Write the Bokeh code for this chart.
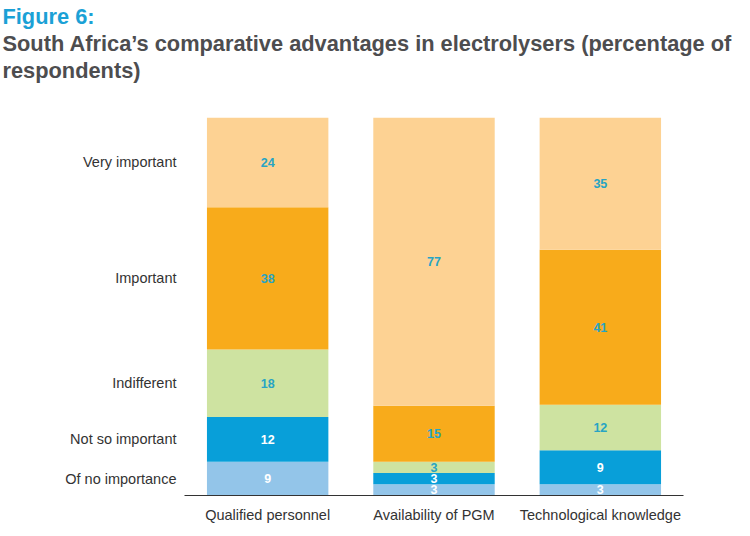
from bokeh.plotting import figure
from bokeh.models import FactorRange, Range1d, FixedTicker, Title, ColumnDataSource, LabelSet
from bokeh.core.properties import value
from bokeh.embed import file_html
from bokeh.resources import INLINE

categories = ["Qualified personnel", "Availability of PGM", "Technological knowledge"]
levels = ["Of no importance", "Not so important", "Indifferent", "Important", "Very important"]
of_no_importance = [9, 3, 3]
not_so_important = [12, 3, 9]
indifferent = [18, 3, 12]
important = [38, 15, 41]
very_important = [24, 77, 35]

series = [of_no_importance, not_so_important, indifferent, important, very_important]
colors = ["#93c5e9", "#089fd9", "#cee3a1", "#f8ab1b", "#fdd293"]
label_colors = ["white", "white", "#27a4c4", "#27a4c4", "#27a4c4"]

FONT = "Liberation Sans"

totals = [sum(s[i] for s in series) for i in range(len(categories))]

p = figure(x_range=FactorRange(*categories, range_padding=0), y_range=Range1d(0, 100),
           width=734, height=525, output_backend="svg", toolbar_location=None,
           min_border_left=184, min_border_right=51, min_border_top=117, min_border_bottom=30)

bottoms = [0.0] * len(categories)
first_mids = []
for k, s in enumerate(series):
    pct = [v / t * 100 for v, t in zip(s, totals)]
    tops = [b + v for b, v in zip(bottoms, pct)]
    mids = [(b + t) / 2 for b, t in zip(bottoms, tops)]
    src = ColumnDataSource(dict(x=categories, bottom=bottoms, top=tops, mid=mids,
                                lab=[str(v) for v in s]))
    p.vbar(x="x", bottom="bottom", top="top", width=0.73, source=src,
           fill_color=colors[k], line_color=None)
    p.add_layout(LabelSet(x="x", y="mid", text="lab", source=src, text_align="center",
                          text_baseline="middle", text_font=value(FONT), text_font_size="12.5px",
                          text_font_style="bold", text_color=label_colors[k]))
    first_mids.append(mids[0])
    bottoms = tops

p.yaxis.ticker = FixedTicker(ticks=first_mids)
p.yaxis.major_label_overrides = {m: lv for m, lv in zip(first_mids, levels)}
p.yaxis.axis_line_color = None
p.yaxis.major_tick_line_color = None
p.yaxis.minor_tick_line_color = None
p.yaxis.major_tick_out = 0
p.yaxis.major_label_standoff = 8
p.yaxis.major_label_text_font = FONT
p.yaxis.major_label_text_font_size = "14.5px"
p.yaxis.major_label_text_color = "#333333"

p.xaxis.axis_line_color = "#333333"
p.xaxis.major_tick_line_color = None
p.xaxis.minor_tick_line_color = None
p.xaxis.major_tick_out = 0
p.xaxis.major_label_standoff = 11
p.xaxis.major_label_text_font = FONT
p.xaxis.major_label_text_font_size = "14.5px"
p.xaxis.major_label_text_color = "#333333"

p.xgrid.grid_line_color = None
p.ygrid.grid_line_color = None
p.outline_line_color = None

p.title.text = "Figure 6:"
p.title.text_font = FONT
p.title.text_font_size = "21.8px"
p.title.text_color = "#1ba1d6"
p.title.align = "left"
p.title.offset = -182
p.title.standoff = 0
# spacer between title block and plot area
p.add_layout(Title(text=" ", text_font=FONT, text_font_size="30px", standoff=0), "above")
p.add_layout(Title(text="respondents)", text_font=FONT, text_font_size="21.8px",
                   text_color="#4d4d4f", align="left", offset=-182, standoff=0), "above")
p.add_layout(Title(text="South Africa\u2019s comparative advantages in electrolysers (percentage of",
                   text_font=FONT, text_font_size="21.8px", text_color="#4d4d4f",
                   align="left", offset=-182, standoff=0), "above")

open("out.html", "w").write(file_html(p, INLINE))
